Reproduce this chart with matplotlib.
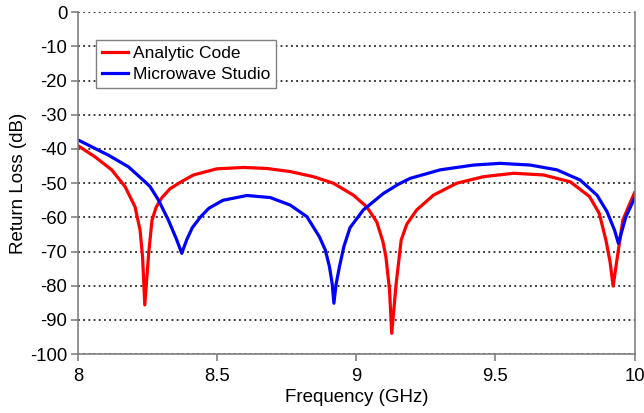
import matplotlib
matplotlib.use('Agg')
import matplotlib.pyplot as plt

plt.rcParams['font.family'] = ['Liberation Sans', 'DejaVu Sans']
plt.rcParams['axes.unicode_minus'] = False  # plain hyphen like the original

# Analytic Code (red)
f_analytic = [8.0, 8.06, 8.12, 8.168, 8.204, 8.222, 8.231, 8.239, 8.253, 8.265,
              8.28, 8.30, 8.33, 8.372, 8.414, 8.498, 8.594, 8.678, 8.762, 8.845,
              8.917, 8.989, 9.037, 9.073, 9.095, 9.106, 9.119, 9.127, 9.143, 9.161,
              9.181, 9.217, 9.277, 9.361, 9.457, 9.565, 9.673, 9.769, 9.838, 9.873,
              9.897, 9.912, 9.923, 9.942, 9.958, 9.978, 10.0]
rl_analytic = [-39.1, -42.3, -46.1, -51.0, -56.9, -63.7, -71.5, -85.6, -70.5, -60.8,
               -57.0, -54.3, -51.6, -49.5, -47.6, -45.8, -45.4, -45.7, -46.6, -48.1,
               -50.0, -53.5, -56.9, -61.3, -67.0, -71.5, -81.2, -93.9, -79.3, -66.6,
               -62.0, -57.8, -53.5, -50.0, -48.1, -47.1, -47.6, -49.6, -53.9, -58.8,
               -66.6, -73.0, -80.1, -69.5, -60.8, -56.9, -52.8]

# Microwave Studio (blue)
f_mws = [8.0, 8.108, 8.18, 8.24, 8.258, 8.288, 8.324, 8.354, 8.372, 8.39,
         8.41, 8.44, 8.47, 8.52, 8.606, 8.69, 8.762, 8.822, 8.867, 8.888,
         8.903, 8.913, 8.919, 8.927, 8.939, 8.955, 8.977, 9.025, 9.097, 9.151,
         9.193, 9.301, 9.421, 9.517, 9.625, 9.721, 9.805, 9.865, 9.901, 9.928,
         9.942, 9.969, 10.0]
rl_mws = [-37.4, -41.8, -45.2, -49.6, -51.0, -54.9, -60.8, -66.6, -70.5, -66.5,
          -63.0, -59.8, -57.3, -55.0, -53.6, -54.2, -56.4, -59.8, -65.7, -69.5,
          -74.4, -79.5, -85.1, -79.5, -74.4, -68.5, -63.0, -57.8, -53.0, -50.3,
          -48.6, -46.1, -44.7, -44.2, -44.7, -46.1, -49.1, -53.5, -58.3, -63.7,
          -67.6, -59.8, -54.4]

fig = plt.figure(figsize=(6.44, 4.13), dpi=100)
ax = fig.add_axes([0.1216, 0.1424, 0.8637, 0.8281])

ax.plot(f_analytic, rl_analytic, color='#ff0000', lw=2.3, label='Analytic Code')
ax.plot(f_mws, rl_mws, color='#0000ff', lw=2.3, label='Microwave Studio')

ax.set_xlim(8, 10)
ax.set_ylim(-100, 0)
ax.set_xticks([8, 8.5, 9, 9.5, 10])
ax.set_xticklabels(['8', '8.5', '9', '9.5', '10'])
ax.set_yticks(range(-100, 1, 10))

ax.yaxis.grid(True, color='black', linestyle=(0, (1.2, 2.2)), lw=1.1)
ax.set_axisbelow(True)

for s in ['left', 'bottom', 'right']:
    ax.spines[s].set_color('#808080')
    ax.spines[s].set_linewidth(1.2)
ax.spines['top'].set_visible(False)
ax.tick_params(direction='out', length=5, width=1.2, color='#808080',
               labelsize=13.3, pad=3)
ax.tick_params(axis='x', pad=5)

ax.set_xlabel('Frequency (GHz)', fontsize=13.5, va='center')
ax.set_ylabel('Return Loss (dB)', fontsize=13.5, va='center')
ax.xaxis.set_label_coords(0.5, -0.128)
ax.yaxis.set_label_coords(-0.108, 0.5)

leg = ax.legend(loc='upper left', bbox_to_anchor=(0.032, 0.919), fontsize=12.5,
                fancybox=False, framealpha=1, edgecolor='#808080',
                handlelength=1.5, handletextpad=0.25, borderpad=0.35,
                labelspacing=0.35, borderaxespad=0)
leg.get_frame().set_linewidth(1.0)

fig.savefig('out.png', dpi=100)
